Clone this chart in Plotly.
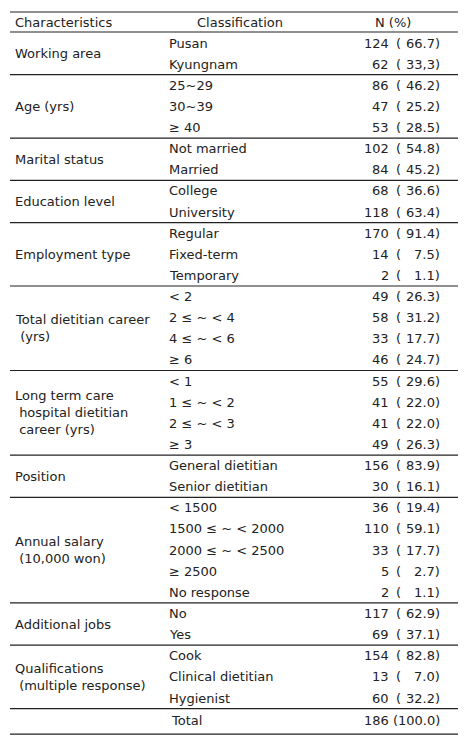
import plotly.graph_objects as go

groups = ["Working area", "Age (yrs)", "Marital status", "Education level", "Employment type",
          "Total dietitian career<br> (yrs)", "Long term care<br> hospital dietitian<br> career (yrs)",
          "Position", "Annual salary<br> (10,000 won)", "Additional jobs",
          "Qualifications<br> (multiple response)"]
classes = [["Pusan", "Kyungnam"], ["25~29", "30~39", "≥ 40"], ["Not married", "Married"],
           ["College", "University"], ["Regular", "Fixed-term", "Temporary"],
           ["< 2", "2 ≤ ~ < 4", "4 ≤ ~ < 6", "≥ 6"], ["< 1", "1 ≤ ~ < 2", "2 ≤ ~ < 3", "≥ 3"],
           ["General dietitian", "Senior dietitian"],
           ["< 1500", "1500 ≤ ~ < 2000", "2000 ≤ ~ < 2500", "≥ 2500", "No response"],
           ["No", "Yes"], ["Cook", "Clinical dietitian", "Hygienist"]]
counts = [[124, 62], [86, 47, 53], [102, 84], [68, 118], [170, 14, 2], [49, 58, 33, 46],
          [55, 41, 41, 49], [156, 30], [36, 110, 33, 5, 2], [117, 69], [154, 13, 60]]
pcts = [["66.7", "33,3"], ["46.2", "25.2", "28.5"], ["54.8", "45.2"], ["36.6", "63.4"],
        ["91.4", "7.5", "1.1"], ["26.3", "31.2", "17.7", "24.7"], ["29.6", "22.0", "22.0", "26.3"],
        ["83.9", "16.1"], ["19.4", "59.1", "17.7", "2.7", "1.1"], ["62.9", "37.1"],
        ["82.8", "7.0", "32.2"]]
total_count, total_pct = 186, "100.0"
headers = ["Characteristics", "Classification", "N (%)"]

W, H = 466, 735
y0, dy = 35, 21.13
font = dict(family="DejaVu Sans", size=13, color="#222")
ann, shapes = [], []

def line(y, w=1.2):
    shapes.append(dict(type="line", x0=2, x1=462, y0=y, y1=y, line=dict(color="#222", width=w)))

def txt(x, y, t, anchor="left"):
    ann.append(dict(x=x, y=y, text=t, showarrow=False, xanchor=anchor, yanchor="middle",
                    align="left", font=font))

line(4); line(24)
txt(5, 14, headers[0]); txt(232, 14, headers[1], "center"); txt(385, 14, headers[2], "center")
i = 0
for g, cl, cn, pc in zip(groups, classes, counts, pcts):
    start = i
    for c, n, p in zip(cl, cn, pc):
        y = y0 + i * dy
        txt(159, y, c)
        txt(383, y, str(n), "right")
        txt(386, y, "(")
        txt(434, y, p + ")", "right")
        i += 1
    txt(5, y0 + (start + i - 1) / 2 * dy, g)
    line(y0 + (i - 0.5) * dy)
yt = y0 + i * dy + 1
txt(178, yt, "Total", "center")
txt(434, yt, f"{total_count} ({total_pct})", "right")
line(yt + 14)

fig = go.Figure()
fig.update_layout(width=W, height=H, margin=dict(l=0, r=0, t=0, b=0),
                  plot_bgcolor="white", paper_bgcolor="white",
                  xaxis=dict(range=[0, W], visible=False, fixedrange=True),
                  yaxis=dict(range=[H, 0], visible=False, fixedrange=True),
                  annotations=ann, shapes=shapes, showlegend=False)
fig.write_html("out.html")
